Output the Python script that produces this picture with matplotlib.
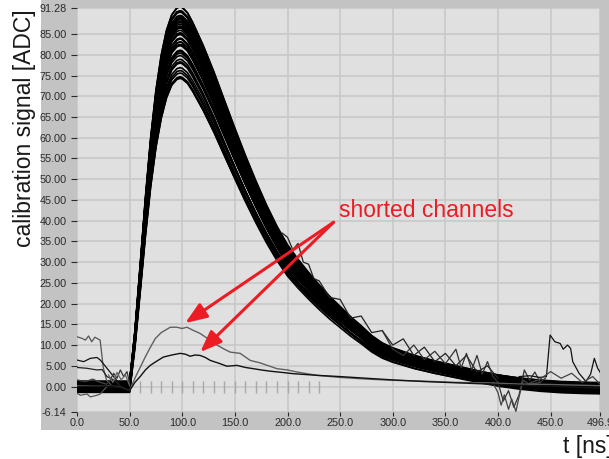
import matplotlib
matplotlib.use("Agg")
import matplotlib.pyplot as plt
from matplotlib.patches import Rectangle
import numpy as np

plt.rcParams['font.family'] = ['Liberation Sans', 'DejaVu Sans']

# ---- pulse shape of the strongest channel (time in ns, signal in ADC) ----
pulse_t = [0, 10, 20, 30, 40, 48, 50, 55, 60, 65, 70, 75, 80, 85, 90, 95, 98,
           100, 105, 110, 120, 130, 140, 150, 160, 170, 180, 190, 200, 210,
           220, 230, 240, 250, 260, 270, 280, 290, 300, 320, 340, 360, 380,
           400, 420, 440, 460, 480, 496.9]
pulse_v = [0.0, 0.0, 0.0, 0.0, 0.0, 0.0, 0.0, 12.5, 28.5, 45.0, 59.5, 71.0,
           79.5, 85.5, 89.3, 91.0, 91.28, 91.1, 89.8, 87.4, 81.8, 75.5, 68.6,
           61.8, 55.2, 49.0, 43.2, 38.0, 33.5, 30.0, 26.8, 23.8, 21.0, 18.5,
           16.0, 13.8, 11.4, 9.6, 8.4, 6.6, 5.2, 4.0, 2.8, 1.7, 0.9, 0.3,
           -0.1, -0.3, -0.4]

# ---- peak amplitude and baseline of each regular channel ----
peak_amp = [91.28, 91.0, 90.7, 90.4, 90.1, 89.8, 89.5, 89.2, 88.9, 88.6, 88.3,
            88.0, 87.7, 87.4, 87.1, 86.8, 86.5, 86.2, 85.9, 85.6, 85.3, 85.0,
            84.7, 84.4, 84.1, 83.8, 83.5, 83.2, 82.9, 82.6, 82.3, 82.0, 81.6,
            81.2, 80.8, 80.3, 79.8, 79.2, 78.5, 77.8, 76.8, 76.0, 75.6, 75.2,
            74.6, 74.0]
baseline = [0.3, -0.4, 0.9, 0.1, -0.7, 0.5, 1.1, -0.2, 0.6, -1.2, 0.2, 0.8,
            -0.8, 0.4, 1.0, -0.3, 0.0, 0.7, -0.6, 0.3, 1.2, -0.1, 0.5, -0.4,
            0.9, 0.1, -1.0, 0.6, 0.2, -0.2, 0.8, 0.4, -0.5, 1.0, 0.0, -1.4,
            0.6, -0.9, 1.3, 0.2, -0.6, 0.9, -1.1, 0.4, -0.3, 0.7]

# ---- the two shorted channels ----
short1_t = [0, 20, 40, 50, 55, 60, 65, 70, 74.5, 80, 88.6, 95, 99.7, 104.5, 110,
            117, 125, 133, 140, 145.6, 155, 164.6, 174, 182, 190, 200, 209, 228,
            250, 275, 300, 330, 360, 390, 420, 450, 480, 496.9]
short1_v = [0.2, 0.1, 0.0, -1.0, 2.0, 4.6, 7.2, 9.6, 11.6, 13.0, 14.3, 14.3,
            14.0, 14.3, 13.6, 12.8, 11.4, 10.0, 9.0, 8.3, 8.0, 6.3, 5.7, 5.0,
            4.3, 4.0, 3.5, 2.7, 2.2, 1.8, 1.5, 1.3, 1.0, 0.9, 0.6, 0.5, 0.3, 0.2]
short2_t = [0, 20, 40, 50, 55, 60, 65, 69.6, 75, 82, 90, 98, 103, 107.6, 112,
            117, 122, 126.6, 135, 142.4, 152, 160, 167.7, 175, 183.6, 195,
            205.5, 228, 250, 275, 300, 330, 360, 390, 420, 450, 480, 496.9]
short2_v = [0.0, 0.1, -0.1, -1.0, 1.0, 2.4, 4.0, 5.1, 6.0, 7.1, 7.6, 8.0, 7.8,
            7.3, 7.6, 7.5, 7.0, 6.3, 5.6, 4.9, 5.1, 4.6, 4.3, 4.0, 3.7, 3.4,
            3.1, 2.7, 2.4, 2.0, 1.6, 1.2, 0.9, 0.6, 0.3, 0.1, -0.2, -0.4]

# ---- noisy channels before the pulse ----
noisy_pre = [
    ([0, 5, 8, 11, 14, 17, 20.5, 22, 25, 28, 32],
     [12.0, 11.6, 11.2, 12.2, 10.8, 11.9, 11.4, 11.2, 4.5, 1.6, 0.5], '#555555'),
    ([0, 6.3, 12.7, 19, 22.1, 28.5, 34.8, 40],
     [6.4, 6.0, 6.8, 7.0, 6.4, 4.4, 2.4, 0.8], '#111111'),
    ([0, 9.5, 19, 23.8, 28.5, 34.8, 40],
     [4.6, 4.4, 4.0, 4.1, 2.4, 1.6, 0.4], '#222222'),
    ([0, 3.2, 9.5, 12.7, 19, 22.1, 26.9, 30],
     [-1.6, -2.1, -1.8, -2.5, -2.1, -1.8, -0.4, 0.2], '#555555'),
    ([0, 8, 15, 22, 28],
     [1.6, 1.2, 1.8, 1.0, 0.6], '#444444'),
    ([28, 31.6, 34.8, 38, 41.2, 44.3, 47.5, 50],
     [0.5, 1.6, 3.2, 2.0, 4.0, 2.4, 3.6, 0.8], '#333333'),
    ([30, 34, 38, 42, 46, 50],
     [2.8, 1.0, 3.4, 1.6, 2.8, 0.2], '#666666'),
]

# ---- noisy channels in the tail ----
noisy_tail = [
    ([195, 200, 205, 210, 215, 220, 225, 230, 240, 250, 260, 270, 280, 290,
      300, 310, 320, 330, 340, 350, 360, 370, 380, 390, 400],
     [37.0, 36.0, 33.0, 34.5, 30.0, 29.5, 26.0, 25.5, 21.5, 21.0, 16.5, 17.0,
      13.0, 13.5, 10.0, 11.5, 7.5, 9.5, 6.0, 8.0, 5.0, 7.5, 3.5, 5.0, 2.0],
     '#222222'),
    ([290, 300, 310, 320, 330, 340, 350, 360, 365, 370, 375, 380, 385, 390, 395,
      400, 405, 410, 415, 420, 425, 430, 435, 440, 445],
     [13.5, 9.0, 7.5, 10.0, 6.5, 8.5, 5.5, 9.0, 4.5, 8.0, 4.0, 7.5, 3.0, 6.0, 2.5,
      1.0, -3.5, -1.0, -5.0, -2.0, 4.0, 1.5, 3.5, 1.0, 2.0], '#333333'),
    ([420, 430, 440, 446, 449.5, 454, 459, 462, 466, 469, 471, 477, 483.6,
      488, 491.5, 494.7, 496.9],
     [2.4, 2.6, 2.2, 2.4, 12.4, 10.8, 10.4, 9.0, 10.0, 9.2, 6.0, 3.2, 1.2,
      3.0, 6.8, 4.4, 3.5], '#111111'),
    ([395, 400, 403, 406, 410, 413, 417, 420, 424, 430, 440],
     [1.0, -1.5, -4.5, -2.0, -5.5, -3.0, -6.0, -2.5, 1.5, 0.5, 1.0], '#444444'),
    ([430, 440, 450, 460, 470, 480, 490, 496.9],
     [0.8, 1.8, 3.6, 2.0, 3.2, 1.0, 2.4, 0.6], '#444444'),
]

# ---- scale marks along the zero line ----
mark_t = [60, 70, 80, 90, 100, 110, 120, 130, 140, 150, 160, 170, 180, 190,
          200, 210, 220, 230]

x_ticks = [0.0, 50.0, 100.0, 150.0, 200.0, 250.0, 300.0, 350.0, 400.0, 450.0, 496.9]
y_ticks = [-6.14, 0.0, 5.0, 10.0, 15.0, 20.0, 25.0, 30.0, 35.0, 40.0, 45.0,
           50.0, 55.0, 60.0, 65.0, 70.0, 75.0, 80.0, 85.0, 91.28]

W, H = 609, 459
fig = plt.figure(figsize=(W / 100, H / 100), dpi=100)
fig.patch.set_facecolor('white')

# grey instrument panel behind the graph
panel = Rectangle((41 / W, 1 - 430 / H), (W - 41) / W, 430 / H,
                  transform=fig.transFigure, facecolor='#c3c3c3',
                  edgecolor='none', zorder=-10)
fig.patches.append(panel)

ax = fig.add_axes([77 / W, 1 - 412 / H, 523 / W, 404 / H])
ax.set_zorder(1)
ax.set_facecolor('#e0e0e0')
ax.set_xlim(0, 496.9)
ax.set_ylim(-6.14, 91.28)

ax.set_xticks(x_ticks)
ax.set_xticklabels([f"{v:.1f}" for v in x_ticks])
ax.set_yticks(y_ticks)
ax.set_yticklabels([f"{v:.2f}" for v in y_ticks])
ax.tick_params(axis='y', labelsize=7.8, colors='#2a2a2a', length=4,
               width=0.8, pad=3.5, direction='out')
ax.tick_params(axis='x', labelsize=7.8, colors='#2a2a2a', length=3,
               width=0.8, pad=1.0, direction='out')
ax.grid(True, color='#c8c8c8', linewidth=1.2)
ax.set_axisbelow(True)
for s in ax.spines.values():
    s.set_visible(False)

ax.plot(mark_t, [0] * len(mark_t), linestyle='none', marker='|',
        markersize=8, markeredgewidth=1.0, color='#a8a8a8', zorder=1)

pt = np.array(pulse_t)
pv = np.array(pulse_v)
for amp, base in zip(peak_amp, baseline):
    ax.plot(pt, base + pv * (amp / max(peak_amp)), color='black',
            linewidth=1.2, zorder=3)

for t, v, c in noisy_pre + noisy_tail:
    ax.plot(t, v, color=c, linewidth=0.9, zorder=3)

ax.plot(short1_t, short1_v, color='#606060', linewidth=1.0, zorder=3)
ax.plot(short2_t, short2_v, color='#111111', linewidth=1.0, zorder=3)

# annotation for the shorted channels
red = '#ec1c24'
ax.text(249.2, 40.8, 'shorted channels', color=red, fontsize=16.5,
        ha='left', va='baseline', zorder=5)
for tip in [(102.8, 15.3), (117.1, 8.3)]:
    ax.annotate('', xy=tip, xytext=(243.7, 39.6),
                arrowprops=dict(arrowstyle='-|>,head_length=1.3,head_width=0.5',
                                color=red, lw=2.2, shrinkA=0, shrinkB=0),
                zorder=5)

fig.text(25 / W, 1 - 128 / H, 'calibration signal [ADC]', rotation=90,
         ha='center', va='center', fontsize=16.5, color='#1a1a1a')
fig.text(563 / W, 1 - 447 / H, 't [ns]', ha='left', va='center',
         fontsize=16.5, color='#1a1a1a')

fig.savefig('out.png', dpi=100, facecolor='white')
